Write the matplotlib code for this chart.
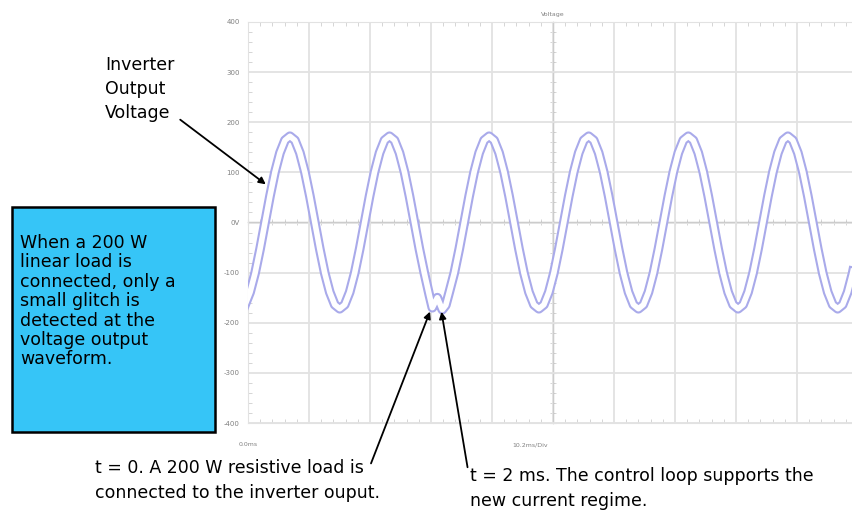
import matplotlib.pyplot as plt
from matplotlib.ticker import MultipleLocator, FixedLocator, NullFormatter

# time in ms, voltage in V
time_ms = list(range(-4, 33)) + [33, 33.6, 34.6, 35.6, 36.3] + list(range(37, 121))
voltage = (
    [-164, -139, -101, -53]
    + [0, 53, 101, 139, 164, 172, 164, 139, 101, 53, 0, -53, -101, -139, -164, -172, -164, -139, -101, -53]
    + [0, 53, 101, 139, 164, 172, 164, 139, 101, 53, 0, -53, -101]
    + [-145, -170, -150, -174, -165]
    + [-139, -101, -53]
    + [0, 53, 101, 139, 164, 172, 164, 139, 101, 53, 0, -53, -101, -139, -164, -172, -164, -139, -101, -53]
    + [0, 53, 101, 139, 164, 172, 164, 139, 101, 53, 0, -53, -101, -139, -164, -172, -164, -139, -101, -53]
    + [0, 53, 101, 139, 164, 172, 164, 139, 101, 53, 0, -53, -101, -139, -164, -172, -164, -139, -101, -53]
    + [0, 53, 101, 139, 164, 172, 164, 139, 101, 53, 0, -53, -101, -139, -164, -172, -164, -139, -101, -53]
    + [0]
)
y_ticks = [400, 300, 200, 100, 0, -100, -200, -300, -400]
y_labels = ['400', '300', '200', '100', '0V', '-100', '-200', '-300', '-400']

T0 = -3.42      # left edge of the screen
DIV = 12.25     # ms per division

plt.rcParams['font.family'] = ['DejaVu Sans']

fig = plt.figure(figsize=(8.52, 5.18), dpi=100)
W, H = 852, 518
ax = fig.add_axes([248 / W, 1 - 423 / H, 610 / W, 401 / H])

grid_c = '#e2e2e2'
ax.set_xlim(T0, T0 + 10 * DIV)
ax.set_ylim(-400, 400)
ax.xaxis.set_major_locator(MultipleLocator(DIV, offset=T0))
ax.xaxis.set_minor_locator(MultipleLocator(DIV / 5, offset=T0))
ax.yaxis.set_major_locator(FixedLocator(y_ticks))
ax.yaxis.set_minor_locator(MultipleLocator(20))
ax.set_yticklabels(y_labels)
ax.xaxis.set_major_formatter(NullFormatter())
ax.grid(True, which='major', color=grid_c, lw=1.3)
ax.tick_params(which='both', colors='#cfcfcf', direction='in', top=True, right=False)
ax.tick_params(which='major', length=0, labelsize=5, labelcolor='#808080', pad=6)
ax.tick_params(which='minor', length=3)
for s in ax.spines.values():
    s.set_color(grid_c)

# centre cross ticks like on a scope screen
secx = ax.secondary_xaxis(0.5)
secx.xaxis.set_minor_locator(MultipleLocator(DIV / 5, offset=T0))
secx.xaxis.set_major_locator(MultipleLocator(DIV, offset=T0))
secx.tick_params(which='both', direction='inout', length=5, colors='#cfcfcf', labelbottom=False)
secx.xaxis.set_major_formatter(NullFormatter())
secx.spines['bottom'].set_visible(False)
secy = ax.secondary_yaxis(0.5)
secy.yaxis.set_minor_locator(MultipleLocator(20))
secy.yaxis.set_major_locator(MultipleLocator(100))
secy.tick_params(which='both', direction='inout', length=5, colors='#cfcfcf')
secy.yaxis.set_major_formatter(NullFormatter())
secy.spines['left'].set_visible(False)

ax.plot(time_ms, voltage, color='#a9aaea', lw=7, solid_joinstyle='round', zorder=3)
ax.plot(time_ms, voltage, color='white', lw=4, solid_joinstyle='round', zorder=4)

ax.text(0.5, 1.012, 'Voltage', transform=ax.transAxes, ha='center', va='bottom',
        fontsize=4.5, color='#808080')
fig.text(248 / W, 1 - 445 / H, '0.0ms', ha='center', va='center', fontsize=4.5, color='#808080')
fig.text(530 / W, 1 - 445 / H, '10.2ms/Div', ha='center', va='center', fontsize=4.5, color='#808080')

# annotations
fig.text(105 / W, 1 - 56 / H, 'Inverter\nOutput\nVoltage', ha='left', va='top',
         fontsize=12.5, linespacing=1.42)
fig.add_artist(plt.Rectangle((12 / W, 1 - 432 / H), 203 / W, 225 / H, transform=fig.transFigure,
                             facecolor='#36c5f7', edgecolor='black', lw=1.8))
fig.text(20 / W, 1 - 234 / H,
         'When a 200 W\nlinear load is\nconnected, only a\nsmall glitch is\ndetected at the\nvoltage output\nwaveform.',
         ha='left', va='top', fontsize=12.5, linespacing=1.10)
fig.text(95 / W, 1 - 459 / H, 't = 0. A 200 W resistive load is\nconnected to the inverter ouput.',
         ha='left', va='top', fontsize=12.5, linespacing=1.47)
fig.text(470 / W, 1 - 467 / H, 't = 2 ms. The control loop supports the\nnew current regime.',
         ha='left', va='top', fontsize=12.5, linespacing=1.47)

arrow = dict(arrowstyle='-|>', color='black', lw=1.3, mutation_scale=10)


def fig_arrow(x0, y0, x1, y1):
    ax.annotate('', xy=(x1 / W, 1 - y1 / H), xycoords='figure fraction',
                xytext=(x0 / W, 1 - y0 / H), textcoords='figure fraction',
                arrowprops=arrow, annotation_clip=False)


fig_arrow(178, 118, 268, 186)
fig_arrow(370, 466, 431, 309)
fig_arrow(468, 470, 441, 309)

fig.savefig('out.png', dpi=100)
